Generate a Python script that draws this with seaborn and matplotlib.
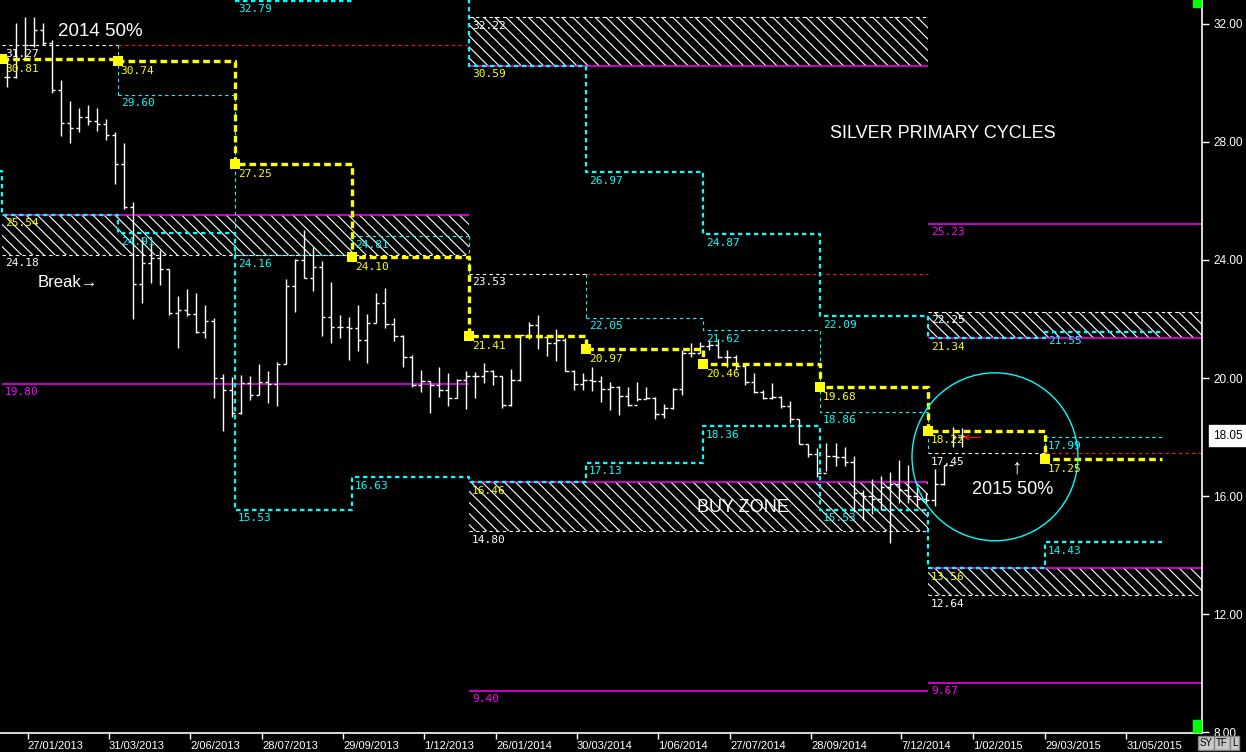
import numpy as np
import pandas as pd
import matplotlib
matplotlib.use("Agg")
import matplotlib.pyplot as plt
import matplotlib.dates as mdates
from matplotlib.patches import Ellipse, Rectangle
import seaborn as sns

# weekly silver bars, Fridays from 11 Jan 2013
bar_start = "2013-01-11"
bar_high = [30.89, 32.02, 32.25, 32.25, 32.04, 31.46, 30.10, 29.40, 29.14, 29.25,
            29.14, 28.77, 28.32, 27.96, 25.98, 24.79, 24.58, 24.34, 23.69, 22.78,
            23.02, 22.88, 22.47, 22.03, 20.14, 20.04, 20.10, 20.07, 20.47, 20.24,
            20.53, 23.35, 24.02, 25.00, 24.43, 23.98, 23.26, 22.14, 22.08, 22.47,
            22.17, 22.89, 23.04, 22.02, 21.46, 20.78, 20.27, 19.91, 20.36, 20.16,
            19.96, 20.25, 20.21, 20.52, 20.27, 20.07, 20.29, 21.46, 21.91, 22.14,
            21.46, 21.65, 21.34, 20.27, 20.18, 20.38, 20.07, 19.87, 19.73, 19.68,
            19.87, 19.68, 19.35, 19.12, 19.65, 20.95, 21.18, 21.23, 21.29, 21.31,
            20.95, 20.78, 20.44, 20.16, 19.59, 19.82, 19.39, 19.23, 18.60, 17.76,
            17.62, 17.79, 17.81, 17.65, 17.36, 16.20, 16.57, 16.68, 16.82, 17.22,
            17.05, 16.32, 16.09, 16.90, 17.05, 18.35, 18.31]
bar_low = [29.87, 30.17, 30.81, 31.23, 31.29, 29.65, 28.20, 27.96, 28.32, 28.58,
           28.38, 28.07, 26.58, 25.72, 21.99, 22.53, 23.22, 23.15, 22.14, 21.02,
           22.10, 21.53, 21.36, 19.32, 18.20, 18.69, 18.78, 19.25, 19.42, 19.16,
           19.06, 20.46, 22.25, 23.38, 22.96, 21.42, 21.20, 21.35, 20.61, 20.93,
           20.50, 21.87, 21.68, 21.24, 20.38, 19.68, 19.54, 18.82, 19.35, 19.06,
           19.31, 18.94, 19.33, 19.82, 19.76, 18.97, 19.05, 19.91, 21.31, 20.97,
           20.75, 20.59, 20.25, 19.59, 19.59, 19.57, 19.20, 18.92, 18.75, 19.05,
           19.23, 19.28, 18.60, 18.63, 18.94, 19.42, 20.70, 20.84, 20.95, 20.67,
           20.38, 20.27, 19.76, 19.50, 19.28, 19.28, 18.97, 18.46, 17.76, 17.33,
           16.65, 16.84, 17.02, 17.02, 15.47, 15.20, 15.40, 15.53, 14.40, 15.76,
           15.75, 15.64, 15.75, 15.65, 16.37, 17.67, 17.66]
bar_close = [30.21, 30.80, 31.29, 31.80, 31.36, 29.76, 28.65, 28.46, 28.84, 28.71,
             28.61, 28.24, 27.25, 25.80, 23.19, 23.91, 24.07, 23.69, 22.20, 22.31,
             22.17, 21.56, 21.93, 20.00, 19.59, 18.80, 19.84, 19.42, 19.85, 19.79,
             20.46, 23.13, 24.00, 23.40, 23.77, 22.08, 21.72, 21.72, 21.68, 21.29,
             21.87, 22.53, 21.83, 21.43, 20.72, 19.76, 19.91, 19.76, 19.59, 19.31,
             19.93, 20.07, 20.07, 20.25, 20.07, 19.08, 19.93, 21.46, 21.80, 21.40,
             21.18, 21.29, 20.25, 19.80, 19.93, 19.91, 19.62, 19.68, 19.39, 19.08,
             19.28, 19.31, 18.78, 18.97, 19.62, 20.84, 20.84, 21.08, 21.12, 20.72,
             20.72, 20.41, 19.87, 19.54, 19.33, 19.37, 19.05, 18.60, 17.76, 17.42,
             16.79, 17.36, 17.33, 17.16, 16.09, 16.00, 15.90, 16.30, 16.40, 16.20,
             16.00, 15.90, 15.85, 16.41, 17.05, 18.00, 18.05]

# quarterly cycle levels (last date closes the final quarter)
quarter_dates = ["2013-01-07", "2013-04-07", "2013-07-07", "2013-10-06", "2014-01-05",
                 "2014-04-06", "2014-07-06", "2014-10-05", "2014-12-28", "2015-03-29",
                 "2015-06-28"]
cycle_mid = [30.81, 30.74, 27.25, 24.10, 21.41, 20.97, 20.46, 19.68, 18.22, 17.25]
band_upper = [np.nan, np.nan, 32.79, 33.60, 30.59, 26.97, 24.87, 22.09, 21.34, 21.55]
band_lower = [25.54, 24.91, 15.53, 16.63, 16.46, 17.13, 18.36, 15.53, 13.56, 14.43]
band_lower_prev = ("2012-10-07", 27.00)
inner_level = [np.nan, 29.60, 24.16, 24.81, np.nan, 22.05, 21.62, 18.86, np.nan, 17.99]

# yearly levels
year_bounds = ["2013-01-07", "2014-01-05", "2014-12-28", "2015-07-29"]
year_first_q = [0, 4, 8]
year_mid = [31.27, 23.53, 17.45]
zone_year = [0, 1, 1, 2, 2]
zone_magenta = [25.54, 30.59, 16.46, 21.34, 13.56]
zone_white = [24.18, 32.22, 14.80, 22.25, 12.64]
extra_year = [0, 1, 2, 2]
extra_magenta = [19.80, 9.40, 25.23, 9.67]

tick_dates = ["27/01/2013", "31/03/2013", "2/06/2013", "28/07/2013", "29/09/2013",
              "1/12/2013", "26/01/2014", "30/03/2014", "1/06/2014", "27/07/2014",
              "28/09/2014", "7/12/2014", "1/02/2015", "29/03/2015", "31/05/2015"]
price_ticks = [8, 12, 16, 20, 24, 28, 32]

circle_center = ("2015-02-18", 17.33)
circle_size = (129, 5.69)  # days, price
arrow_from = ("2015-02-09", 17.99)
arrow_to = ("2015-01-22", 17.99)

sns.set_theme(style="dark", rc={"axes.facecolor": "black", "figure.facecolor": "black"})
plt.rcParams["font.family"] = ["Liberation Sans", "DejaVu Sans"]
plt.rcParams["hatch.linewidth"] = 0.8
plt.rcParams["hatch.color"] = "white"

YEL, CYA, MAG, RED = "#ffff00", "#00ffff", "#ff00ff", "#ff1010"
num = lambda d: mdates.date2num(pd.Timestamp(d))

fig = plt.figure(figsize=(12.46, 7.52), dpi=100, facecolor="black")
ax = fig.add_axes([0, 19 / 752, 1202 / 1246, 733 / 752])
ax.set_facecolor("black")

qx = mdates.date2num(pd.to_datetime(quarter_dates))
yx = mdates.date2num(pd.to_datetime(year_bounds))


def label(x, y, txt, color):
    ax.annotate(txt, xy=(x, y), xytext=(2, -2.5), textcoords="offset points",
                ha="left", va="top", fontsize=8, color=color,
                family="DejaVu Sans Mono", zorder=6)


# hatched yearly zones
for yi, m, w in zip(zone_year, zone_magenta, zone_white):
    ax.fill_between([yx[yi], yx[yi + 1]], min(m, w), max(m, w), facecolor="none",
                    edgecolor="white", linewidth=0, hatch="\\\\\\", zorder=1)
    ax.hlines(m, yx[yi], yx[yi + 1], color=MAG, lw=1.1, zorder=2)
    ax.hlines(w, yx[yi], yx[yi + 1], color="white", lw=0.8,
              linestyles=(0, (3, 3)), zorder=2)
    label(yx[yi], m, f"{m:.2f}", YEL)
    label(yx[yi], w, f"{w:.2f}", "white")

for yi, m in zip(extra_year, extra_magenta):
    ax.hlines(m, yx[yi], yx[yi + 1], color=MAG, lw=1.1, zorder=2)
    label(yx[yi], m, f"{m:.2f}", MAG)

# yearly 50% lines: white for first quarter, red after
for yi, (q0, lvl) in enumerate(zip(year_first_q, year_mid)):
    ax.hlines(lvl, yx[yi], qx[q0 + 1], color="white", lw=0.8,
              linestyles=(0, (3, 3)), zorder=2)
    ax.hlines(lvl, qx[q0 + 1], yx[yi + 1], color=RED, lw=0.8,
              linestyles=(0, (3, 3)), zorder=2)
    label(yx[yi], lvl, f"{lvl:.2f}", "white")

# inner cyan levels
ax.plot(qx, inner_level + [inner_level[-1]], drawstyle="steps-post", color=CYA,
        lw=0.8, ls=(0, (3, 3)), zorder=2)
ax.vlines(qx[[q + 1 for q in year_first_q]], year_mid,
          [inner_level[q + 1] for q in year_first_q], color=CYA, lw=0.8,
          linestyles=(0, (3, 3)), zorder=2)
ax.vlines(qx[[4, 8]], [inner_level[3], inner_level[7]], year_mid[1:], color=CYA,
          lw=0.8, linestyles=(0, (3, 3)), zorder=2)

# cyan cycle bands
ax.plot(qx, band_upper + [band_upper[-1]], drawstyle="steps-post", color=CYA,
        lw=1.6, ls=(0, (2, 1.6)), zorder=2.5)
lx = np.concatenate([[num(band_lower_prev[0])], qx])
ax.plot(lx, [band_lower_prev[1]] + band_lower + [band_lower[-1]],
        drawstyle="steps-post", color=CYA, lw=1.6, ls=(0, (2, 1.6)), zorder=2.5)

for i in range(len(cycle_mid)):
    if i in year_first_q:
        continue
    for v in (band_upper[i], band_lower[i], inner_level[i]):
        if np.isfinite(v) and v < 32.8:
            label(qx[i], v, f"{v:.2f}", CYA)

# price bars
bx = mdates.date2num(pd.date_range(bar_start, periods=len(bar_high), freq="7D"))
bar_open = [bar_close[0]] + bar_close[:-1]
ax.vlines(bx, bar_low, bar_high, color="white", lw=1, zorder=3)
ax.hlines(bar_open, bx - 2.4, bx, color="white", lw=1, zorder=3)
ax.hlines(bar_close, bx, bx + 2.4, color="white", lw=1, zorder=3)

# yellow quarterly cycle midpoint
mid_df = pd.DataFrame({"x": qx, "y": cycle_mid + [cycle_mid[-1]]})
sns.lineplot(data=mid_df, x="x", y="y", ax=ax, estimator=None, sort=False,
             drawstyle="steps-post", color=YEL, lw=2.4, ls=(0, (2, 1.2)), zorder=4)
sns.scatterplot(x=qx[:-1], y=cycle_mid, ax=ax, marker="s", s=60, color=YEL,
                linewidth=0, zorder=5)
for x, v in zip(qx[:-1], cycle_mid):
    ax.annotate(f"{v:.2f}", xy=(x, v), xytext=(2, -3.5), textcoords="offset points",
                ha="left", va="top", fontsize=8, color=YEL,
                family="DejaVu Sans Mono", zorder=6)

# circle and arrow
ax.add_patch(Ellipse((num(circle_center[0]), circle_center[1]), circle_size[0],
                     circle_size[1], fill=False, edgecolor=CYA, lw=1, zorder=5))
ax.annotate("", xy=(num(arrow_to[0]), arrow_to[1]),
            xytext=(num(arrow_from[0]), arrow_from[1]),
            arrowprops=dict(arrowstyle="->", color=RED, lw=0.8, mutation_scale=9),
            zorder=6)

txt = dict(color="white", transform=ax.transAxes, zorder=7)
ax.text(58 / 1202, 1 - 31 / 733, "2014 50%", fontsize=13.5, va="center", **txt)
ax.text(38 / 1202, 1 - 283 / 733, "Break\u2192", fontsize=12, va="center", **txt)
ax.text(830 / 1202, 1 - 134 / 733, "SILVER PRIMARY CYCLES", fontsize=13,
        va="center", **txt)
ax.text(697 / 1202, 1 - 508 / 733, "BUY ZONE", fontsize=13, va="center", **txt)
ax.text(1017 / 1202, 1 - 468 / 733, "\u2191", fontsize=15, va="center",
        ha="center", fontweight="bold", **txt)
ax.text(972 / 1202, 1 - 490 / 733, "2015 50%", fontsize=13, va="center", **txt)

# axes styling
ax.set_xlim(num("2013-01-05 07:00"), yx[-1])
ax.set_ylim(7.97, 32.81)
ax.grid(False)
for side in ("left", "top"):
    ax.spines[side].set_visible(False)
for side in ("right", "bottom"):
    ax.spines[side].set_color("white")
    ax.spines[side].set_linewidth(1.2)

ax.yaxis.tick_right()
ax.set_yticks(price_ticks)
ax.set_yticklabels([f"{p:.2f}" for p in price_ticks])
ax.tick_params(axis="y", colors="white", labelcolor="white", length=5, width=1,
               labelsize=8.5, pad=3, right=True, left=False)
xt = mdates.date2num(pd.to_datetime(tick_dates, format="%d/%m/%Y"))
ax.set_xticks(xt)
ax.set_xticklabels(tick_dates, ha="left")
ax.tick_params(axis="x", colors="white", labelcolor="white", length=4, width=1,
               labelsize=8, pad=2, bottom=True)
ax.set_xlabel("")
ax.set_ylabel("")

last = bar_close[-1]
ax.annotate(f"{last:.2f}", xy=(1, last), xycoords=("axes fraction", "data"),
            xytext=(8, 0), textcoords="offset points", ha="left", va="center",
            fontsize=8.5, color="black", annotation_clip=False,
            bbox=dict(boxstyle="square,pad=0.35", fc="white", ec="white"))

for i, s in enumerate(["SY", "TF", "L"]):
    fig.text((1200 + i * 16) / 1246, 6 / 752, s, fontsize=7, color="black",
             bbox=dict(boxstyle="square,pad=0.2", fc="#c8c8c8", ec="#808080"))
fig.add_artist(Rectangle((1193 / 1246, 20 / 752), 8 / 1246, 12 / 752,
                         transform=fig.transFigure, color="#00ff00"))
fig.add_artist(Rectangle((1193 / 1246, 745 / 752), 8 / 1246, 7 / 752,
                         transform=fig.transFigure, color="#00ff00"))

fig.savefig("out.png", dpi=100, facecolor="black")
